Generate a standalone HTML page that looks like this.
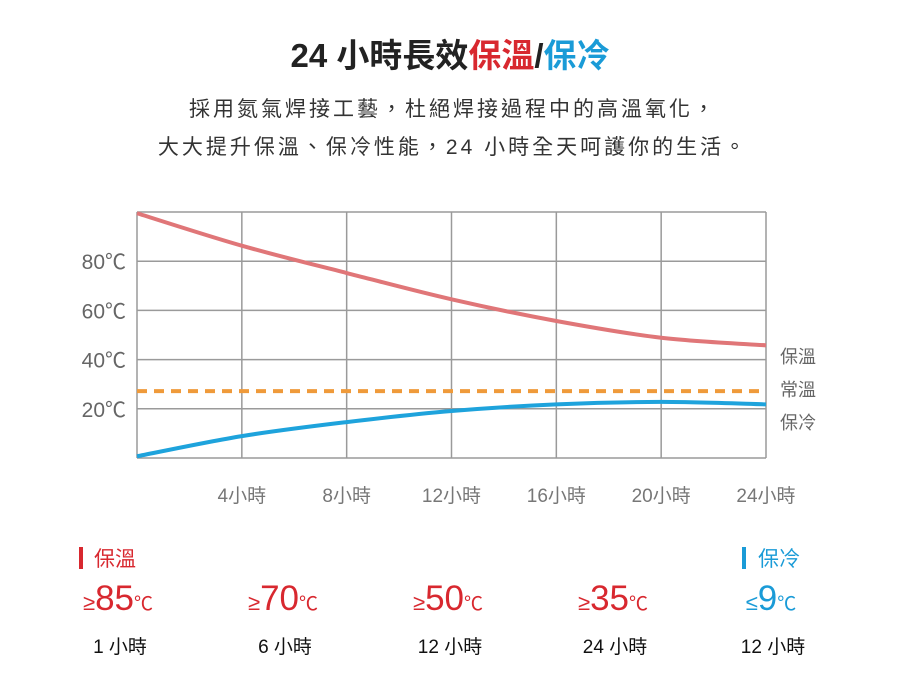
<!DOCTYPE html>
<html><head><meta charset="utf-8"><style>
body{margin:0;width:901px;height:678px;background:#fff;font-family:"Liberation Sans","Noto Sans CJK TC",sans-serif;position:relative;overflow:hidden}
.t{position:absolute;white-space:nowrap}
.c{transform:translateX(-50%)}
</style></head><body>
<div class="t c" style="left:450px;top:29px;font-size:33px;font-weight:bold;color:#222">24 小時長效<span style="color:#d8282f">保溫</span>/<span style="color:#1a9bd7">保冷</span></div>
<div class="t c" style="left:453px;top:93px;font-size:21px;color:#333;letter-spacing:3px">採用氮氣焊接工藝，杜絕焊接過程中的高溫氧化，</div>
<div class="t c" style="left:453px;top:131px;font-size:21px;color:#333;letter-spacing:3px">大大提升保溫、保冷性能，24 小時全天呵護你的生活。</div>
<svg id="chart" width="901" height="520" style="position:absolute;left:0;top:0" font-family="Liberation Sans, Noto Sans CJK TC, sans-serif"></svg>
<div class="t" style="left:79px;top:547px;width:4px;height:22px;background:#d8282f"></div>
<div class="t" style="left:94px;top:543px;font-size:21px;color:#d8282f">保溫</div>
<div class="t" style="left:742px;top:547px;width:4px;height:22px;background:#1a9bd7"></div>
<div class="t" style="left:758px;top:543px;font-size:21px;color:#1a9bd7">保冷</div>
<div id="stats"></div>
<script>
const hours=[0,4,8,12,16,20,24];
const hotTemps=[99.5,86.3,75.2,64.5,55.7,48.9,45.8];
const coldTemps=[0.7,8.9,14.6,19.1,21.8,22.8,21.8];
const roomTemp=27.2;
const yTicks=[20,40,60,80];
const xTickLabels=["4小時","8小時","12小時","16小時","20小時","24小時"];
const statSigns=["≥","≥","≥","≥","≤"];
const statValues=["85","70","50","35","9"];
const statTimes=["1 小時","6 小時","12 小時","24 小時","12 小時"];
const statCold=[false,false,false,false,true];

const X0=137,X1=766,Y0=458,Y1=212;
const xs=h=>X0+(X1-X0)*h/24;
const ys=v=>Y0-(Y0-Y1)*v/100;
const svg=document.getElementById('chart');
const NS='http://www.w3.org/2000/svg';
function mk(tag,attrs){const e=document.createElementNS(NS,tag);for(const k in attrs)e.setAttribute(k,attrs[k]);svg.appendChild(e);return e;}
for(let i=0;i<=6;i++){const l=mk('line',{x1:xs(i*4),x2:xs(i*4),y1:Y1,y2:Y0,stroke:'#9a9a9a','stroke-width':1.5});

}
for(let v=0;v<=100;v+=20){const l=mk('line',{x1:X0,x2:X1,y1:ys(v),y2:ys(v),stroke:'#9a9a9a','stroke-width':1.5});

}
yTicks.forEach(v=>{const t=mk('text',{x:126,y:ys(v)+8,'text-anchor':'end','font-size':21,fill:'#666'});t.textContent=v+'℃';

});
xTickLabels.forEach((s,i)=>{const t=mk('text',{x:xs((i+1)*4),y:502,'text-anchor':'middle','font-size':19,fill:'#777'});t.textContent=s;

});
function curve(vals){const p=hours.map((h,i)=>[xs(h),ys(vals[i])]);let d='M'+p[0][0]+','+p[0][1];
for(let i=0;i<p.length-1;i++){const a=p[Math.max(0,i-1)],b=p[i],c=p[i+1],e=p[Math.min(p.length-1,i+2)];
d+=' C'+(b[0]+(c[0]-a[0])/6)+','+(b[1]+(c[1]-a[1])/6)+' '+(c[0]-(e[0]-b[0])/6)+','+(c[1]-(e[1]-b[1])/6)+' '+c[0]+','+c[1];}return d;}
const rl=mk('line',{x1:X0,x2:X1,y1:ys(roomTemp),y2:ys(roomTemp),stroke:'#ef9a3a','stroke-width':4,'stroke-dasharray':'10,7'});


const hp=mk('path',{d:curve(hotTemps),fill:'none',stroke:'#e07678','stroke-width':4});


const cp=mk('path',{d:curve(coldTemps),fill:'none',stroke:'#1ea3dc','stroke-width':4});


[["保溫",363],["常溫",396],["保冷",429]].forEach(([s,y])=>{const t=mk('text',{x:780,y:y,'font-size':18,fill:'#666'});t.textContent=s;

});
const st=document.getElementById('stats');
const cx=[118,283,448,613,771];
statValues.forEach((v,i)=>{const col=statCold[i]?'#1a9bd7':'#d8282f';
const d=document.createElement('div');d.className='t c';d.style.cssText=`left:${cx[i]}px;top:580px;color:${col};font-size:35px;line-height:38px`;
d.innerHTML=`<span style="font-size:22px">${statSigns[i]}</span>${v}<span style="font-size:19px">℃</span>`;


st.appendChild(d);
const t=document.createElement('div');t.className='t c';t.style.cssText=`left:${cx[i]+2}px;top:632px;font-size:19px;color:#111`;t.textContent=statTimes[i];


st.appendChild(t);});
</script>
</body></html>
